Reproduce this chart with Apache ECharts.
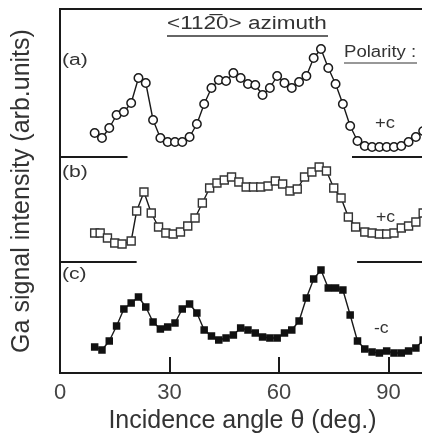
<!DOCTYPE html>
<html>
<head>
<meta charset="utf-8">
<script src="https://cdn.jsdelivr.net/npm/echarts@6/dist/echarts.min.js"></script>
<style>html,body{margin:0;padding:0;background:#fff;}#c{width:422px;height:440px;}</style>
</head>
<body>
<div id="c"></div>
<script>
// Incidence angle (deg.)
var anglesAC = [9.5,11.5,13.5,15.5,17.5,19.5,21.5,23.5,25.5,27.5,29.5,31.5,33.5,35.5,37.5,39.5,41.5,43.5,45.5,47.5,49.5,51.5,53.5,55.5,57.5,59.5,61.5,63.5,65.5,67.5,69.5,71.5,73.5,75.5,77.5,79.5,81.5,83.5,85.5,87.5,89.5,91.5,93.5,95.5,97.5,99.5];
var anglesB = [9.5,11,13,15,17,19.5,21,23,25,27,29,31,33,35,37,39,41,43,45,47,49,51,53,55,57,59,61,63,65,67,69,71,73,75,77,79,81,83.5,85.5,87.5,89.5,91.5,93.5,95.5,97.5,99.5];
// Ga signal intensity (arb. units, curves offset vertically)
var seriesA = [240,235,245,258,261,270,295,290,253,235,231,231,231,236,249,269,285,293,292,300,295,289,288,278,285,297,290,285,291,297,315,324,305,289,269,247,232,227,226,226,226,226,227,231,236,242];
var seriesB = [140,140,135,130,129,132,162,181,160,146,140,139,141,147,155,170,185,190,193,196,191,186,186,186,187,192,189,182,184,196,201,206,202,185,175,156,146,141,140,139,139,140,145,147,151,160];
var seriesC = [26,23,32,47,64,70,76,66,51,44,46,50,64,69,60,43,37,33,35,38,45,43,40,36,35,35,40,43,52,75,94,103,85,85,83,58,32,24,21,20,22,20,20,22,25,33];
var xTicks = [0,30,60,90];
// separator segments [x0, x1, level]
var separators = [[0,18.5,216],[80,100,216],[0,21,111],[81.4,100,111]];

function pairs(xs, ys){ return xs.map(function(x,i){ return [x, ys[i]]; }); }

var FONT = 'Arial, "Liberation Sans", sans-serif';
var chart = echarts.init(document.getElementById('c'));
var lineStyle = {color:'#1a1a1a', width:1.4};

function txt(x, y, s, size, sx){
  return {type:'text', x:x, y:y, scaleX:sx || 1,
    style:{text:s, font:size+'px '+FONT, fill:'#333', textAlign:'left', textVerticalAlign:'top'}};
}

chart.setOption({
  animation:false,
  backgroundColor:'#fff',
  grid:{left:60, top:9, bottom:67, width:365, containLabel:false, outerBoundsMode:'none',
        show:true, borderColor:'#1a1a1a', borderWidth:2, backgroundColor:'transparent'},
  xAxis:{
    type:'value', min:0, max:100, interval:30,
    name:'Incidence angle \u03b8 (deg.)', nameLocation:'middle', nameGap:33,
    nameTextStyle:{fontFamily:FONT, fontSize:25, color:'#333'},
    axisLine:{show:true, lineStyle:{color:'#1a1a1a', width:2}},
    axisTick:{show:true, inside:true, length:16, lineStyle:{color:'#1a1a1a', width:2}},
    axisLabel:{fontFamily:FONT, fontSize:22, color:'#444', margin:9, showMaxLabel:false,
      formatter:function(v){ return xTicks.indexOf(v) >= 0 ? String(v) : ''; }},
    splitLine:{show:false}
  },
  yAxis:{
    type:'value', min:0, max:364,
    name:'Ga signal intensity (arb.units)', nameLocation:'middle', nameGap:25,
    nameTextStyle:{fontFamily:FONT, fontSize:25, color:'#333'},
    axisLine:{show:true, lineStyle:{color:'#1a1a1a', width:2}},
    axisTick:{show:false}, axisLabel:{show:false}, splitLine:{show:false}
  },
  series:[
    {type:'line', data:pairs(anglesAC, seriesA), symbol:'circle', symbolSize:8.5,
     lineStyle:lineStyle, itemStyle:{color:'#fff', borderColor:'#1a1a1a', borderWidth:1.5}, clip:true},
    {type:'line', data:pairs(anglesB, seriesB), symbol:'rect', symbolSize:8,
     lineStyle:lineStyle, itemStyle:{color:'#fff', borderColor:'#333', borderWidth:1.4}, clip:true},
    {type:'line', data:pairs(anglesAC, seriesC), symbol:'rect', symbolSize:7.5,
     lineStyle:lineStyle, itemStyle:{color:'#111', borderColor:'#111', borderWidth:0}, clip:true},
    {type:'line', data:[], silent:true,
     markLine:{symbol:['none','none'], silent:true, label:{show:false},
       lineStyle:{color:'#1a1a1a', width:2, type:'solid'},
       data:separators.map(function(s){ return [{coord:[s[0], s[2]]},{coord:[s[1], s[2]]}]; })}}
  ],
  graphic:[
    txt(62, 53, '(a)', 16, 1.32),
    txt(62, 165, '(b)', 16, 1.32),
    txt(62, 267, '(c)', 16, 1.32),
    txt(167, 15, '<112\u03050> azimuth', 18, 1.25),
    {type:'line', shape:{x1:167, y1:36, x2:328, y2:36}, style:{stroke:'#333', lineWidth:1.5}},
    txt(344, 45, 'Polarity :', 16, 1.16),
    {type:'line', shape:{x1:344, y1:63, x2:417, y2:63}, style:{stroke:'#333', lineWidth:1.2}},
    txt(375, 116, '+c', 16, 1.15),
    txt(376, 210, '+c', 16, 1.1),
    txt(374, 321, '-c', 16, 1.1)
  ]
});
</script>
</body>
</html>
